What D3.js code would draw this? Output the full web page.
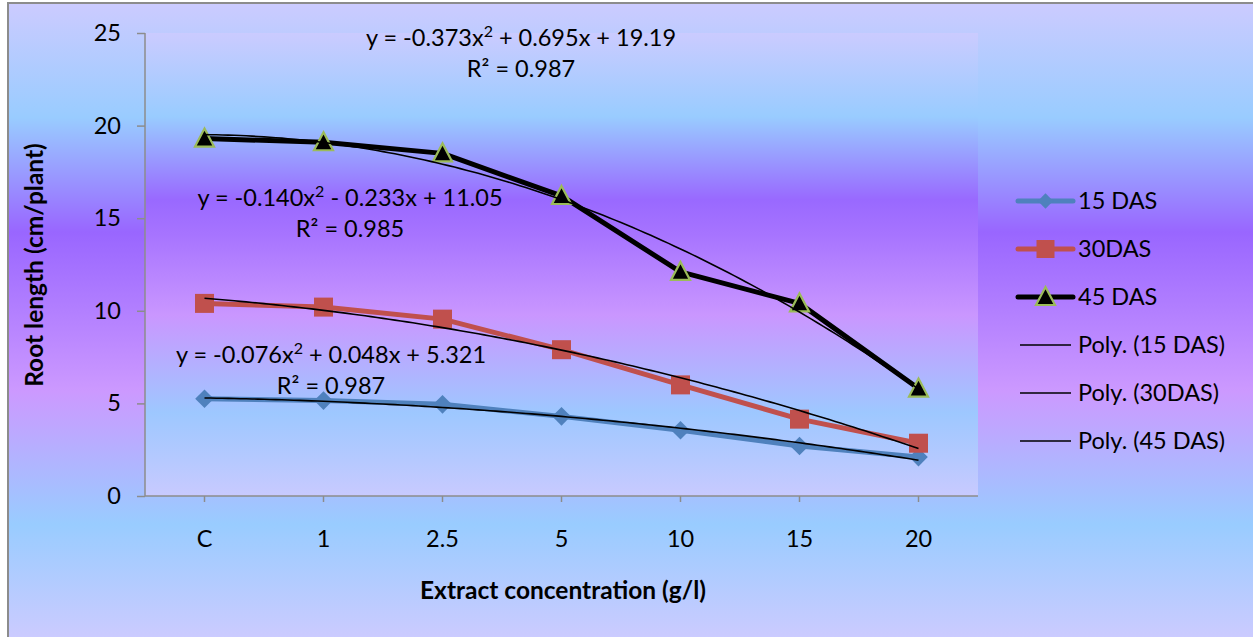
<!DOCTYPE html>
<html>
<head>
<meta charset="utf-8">
<script src="https://cdn.jsdelivr.net/npm/d3@7"></script>
<style>
  html, body { margin: 0; padding: 0; background: #fff; }
  svg { display: block; font-family: Lato, "Open Sans", sans-serif; }
</style>
</head>
<body>
<svg id="chart" width="1253" height="637"></svg>
<script>
// Extract concentration categories (g/l)
const categories = ["C", "1", "2.5", "5", "10", "15", "20"];

// Root length (cm/plant) at each sampling date
const das15 = [5.25, 5.15, 4.95, 4.3, 3.55, 2.7, 2.1];
const das30 = [10.4, 10.2, 9.55, 7.9, 6.0, 4.15, 2.85];
const das45 = [19.3, 19.1, 18.5, 16.2, 12.1, 10.4, 5.8];

// Second-order polynomial trendline coefficients [a, b, c] for y = a x^2 + b x + c
const poly15 = [-0.076, 0.048, 5.321];
const poly30 = [-0.140, -0.233, 11.05];
const poly45 = [-0.373, 0.695, 19.19];

const yTicks = [0, 5, 10, 15, 20, 25];

const svg = d3.select("#chart");
const W = 1253, H = 637;
const plot = { left: 145, right: 978, top: 33, bottom: 496 };

// Preset gradient (lavender / sky blue / violet bands)
const defs = svg.append("defs");
function addGrad(id) {
  const g = defs.append("linearGradient").attr("id", id)
    .attr("x1", 0).attr("y1", 0).attr("x2", 0).attr("y2", 1);
  [[0, "#cccbff"], [0.18, "#99ccff"], [0.36, "#9966ff"],
   [0.61, "#cc99ff"], [0.82, "#99ccff"], [1, "#cccbff"]]
    .forEach(([o, c]) => g.append("stop").attr("offset", o).attr("stop-color", c));
}
addGrad("bgChart");
addGrad("bgPlot");

// Chart area
svg.append("rect").attr("x", 8).attr("y", 3).attr("width", W - 8 + 2).attr("height", H - 3 + 2)
  .attr("fill", "url(#bgChart)").attr("stroke", "#8c8c8c").attr("stroke-width", 2);

// Plot area
svg.append("rect").attr("x", plot.left).attr("y", plot.top)
  .attr("width", plot.right - plot.left).attr("height", plot.bottom - plot.top)
  .attr("fill", "url(#bgPlot)").attr("opacity", 0.9);

const x = d3.scaleBand().domain(categories).range([plot.left, plot.right]).padding(0);
const cx = d => x(d) + x.bandwidth() / 2;
const y = d3.scaleLinear().domain([0, 25]).range([plot.bottom, plot.top]);
// trendline x in the 1..n category index space
const xi = d3.scaleLinear().domain([1, categories.length])
  .range([cx(categories[0]), cx(categories[categories.length - 1])]);

const axisColor = "#8c8c8c";
const fontSize = 23.5;
const titleSize = 24.5;

// Y axis
const yAxis = svg.append("g").attr("transform", `translate(${plot.left},0)`)
  .call(d3.axisLeft(y).tickValues(yTicks).tickSize(8).tickPadding(16).tickFormat(d3.format("d")));
yAxis.select(".domain").attr("stroke", axisColor).attr("stroke-width", 1.5).attr("d", `M0,${plot.top}V${plot.bottom}`);
yAxis.selectAll(".tick line").attr("stroke", axisColor).attr("stroke-width", 1.5);
yAxis.selectAll(".tick text").attr("font-size", fontSize).attr("fill", "#000")
  .attr("font-family", "Lato, sans-serif");

// X axis
const xAxis = svg.append("g").attr("transform", `translate(0,${plot.bottom})`)
  .call(d3.axisBottom(x).tickSize(6).tickPadding(28));
xAxis.select(".domain").attr("stroke", axisColor).attr("stroke-width", 1.5)
  .attr("d", `M${plot.left},0H${plot.right}`);
xAxis.selectAll(".tick line").attr("stroke", axisColor).attr("stroke-width", 1.5);
xAxis.selectAll(".tick text").attr("font-size", fontSize).attr("fill", "#000")
  .attr("font-family", "Lato, sans-serif");

// Axis titles
svg.append("text").attr("x", 563).attr("y", 599).attr("text-anchor", "middle")
  .attr("font-size", titleSize).attr("font-weight", "bold").text("Extract concentration (g/l)");
svg.append("text").attr("transform", "translate(43,265) rotate(-90)").attr("text-anchor", "middle")
  .attr("font-size", titleSize).attr("font-weight", "bold").text("Root length (cm/plant)");

// Series
const series = [
  { name: "15 DAS", values: das15, color: "#4f81bd", marker: "diamond" },
  { name: "30DAS", values: das30, color: "#c0504d", marker: "square" },
  { name: "45 DAS", values: das45, color: "#000000", marker: "triangle" }
];

const line = d3.line().x((d, i) => cx(categories[i])).y(d => y(d));

function drawMarker(g, type, px, py, color) {
  if (type === "diamond") {
    g.append("path").attr("d", d3.symbol(d3.symbolDiamond2, 200)())
      .attr("transform", `translate(${px},${py}) scale(1.05,1.05)`)
      .attr("fill", color);
  } else if (type === "square") {
    g.append("rect").attr("x", px - 9.5).attr("y", py - 9.5).attr("width", 19).attr("height", 19)
      .attr("fill", color);
  } else {
    g.append("path").attr("d", `M${px},${py - 10}L${px + 9.5},${py + 8}L${px - 9.5},${py + 8}Z`)
      .attr("fill", "#000").attr("stroke", "#9bbb59").attr("stroke-width", 2.2)
      .attr("stroke-linejoin", "miter");
  }
}

const gSeries = svg.append("g");
series.forEach(s => {
  gSeries.append("path").attr("d", line(s.values)).attr("fill", "none")
    .attr("stroke", s.color).attr("stroke-width", 5).attr("stroke-linejoin", "round");
  s.values.forEach((v, i) => drawMarker(gSeries, s.marker, cx(categories[i]), y(v), s.color));
});

// Polynomial trendlines
const polys = [poly15, poly30, poly45];
const trend = d3.line().x(d => xi(d[0])).y(d => y(d[1]));
polys.forEach(p => {
  const pts = d3.range(1, categories.length + 0.001, 0.05)
    .map(t => [t, p[0] * t * t + p[1] * t + p[2]]);
  svg.append("path").attr("d", trend(pts)).attr("fill", "none")
    .attr("stroke", "#000").attr("stroke-width", 1.6);
});

// Trendline equation labels
function fmt(v, digits) { return Math.abs(v).toFixed(digits); }
function eqLabel(p, dc, r2, lx, ly) {
  const t = svg.append("text").attr("x", lx).attr("y", ly).attr("text-anchor", "middle")
    .attr("font-size", fontSize);
  t.append("tspan").text(`y = ${p[0] < 0 ? "-" : ""}${fmt(p[0], 3)}x`);
  t.append("tspan").attr("dy", -9).attr("font-size", 16).text("2");
  t.append("tspan").attr("dy", 9).text(` ${p[1] < 0 ? "-" : "+"} ${fmt(p[1], 3)}x ${p[2] < 0 ? "-" : "+"} ${fmt(p[2], dc)}`);
  svg.append("text").attr("x", lx).attr("y", ly + 31).attr("text-anchor", "middle")
    .attr("font-size", fontSize).text(`R² = ${r2}`);
}
eqLabel(poly45, 2, "0.987", 521, 46);
eqLabel(poly30, 2, "0.985", 350, 206);
eqLabel(poly15, 3, "0.987", 331, 363);

// Legend
const legendItems = [
  { name: "15 DAS", color: "#4f81bd", marker: "diamond", w: 5 },
  { name: "30DAS", color: "#c0504d", marker: "square", w: 5 },
  { name: "45 DAS", color: "#000", marker: "triangle", w: 5 },
  { name: "Poly. (15 DAS)", color: "#000", marker: null, w: 1.6 },
  { name: "Poly. (30DAS)", color: "#000", marker: null, w: 1.6 },
  { name: "Poly. (45 DAS)", color: "#000", marker: null, w: 1.6 }
];
const gLeg = svg.append("g");
legendItems.forEach((it, i) => {
  const ly = 201 + i * 48;
  const x0 = it.marker ? 1018 : 1020, x1 = it.marker ? 1073 : 1071;
  gLeg.append("line").attr("x1", x0).attr("x2", x1).attr("y1", ly).attr("y2", ly)
    .attr("stroke", it.color).attr("stroke-width", it.w).attr("stroke-linecap", it.marker ? "round" : "butt");
  if (it.marker) {
    if (it.marker === "square") {
      gLeg.append("rect").attr("x", 1045.5 - 9).attr("y", ly - 9).attr("width", 18).attr("height", 18).attr("fill", it.color);
    } else if (it.marker === "diamond") {
      gLeg.append("path").attr("d", d3.symbol(d3.symbolDiamond2, 150)()).attr("transform", `translate(1045.5,${ly})`).attr("fill", it.color);
    } else {
      drawMarker(gLeg, "triangle", 1045.5, ly, it.color);
    }
  }
  gLeg.append("text").attr("x", 1078).attr("y", ly + 8).attr("font-size", fontSize).text(it.name);
});
</script>
</body>
</html>
